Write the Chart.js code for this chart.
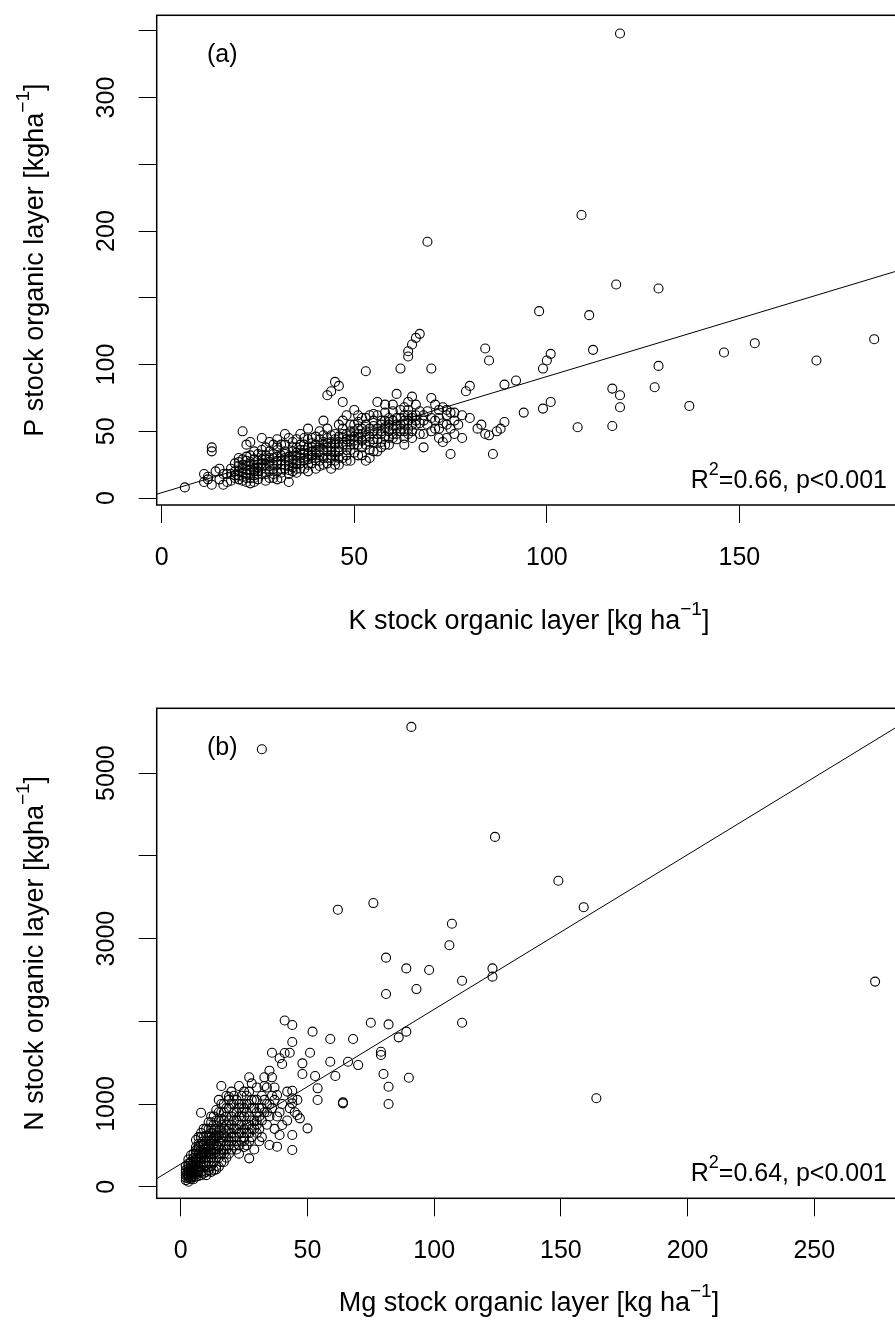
<!DOCTYPE html>
<html>
<head>
<meta charset="utf-8">
<script src="https://cdn.jsdelivr.net/npm/chart.js@4.4.1/dist/chart.umd.min.js"></script>
<style>
 body { margin:0; background:#fff; width:895px; height:1332px; overflow:hidden; position:relative; }
 .panel { position:absolute; left:0; width:960px; height:666px; }
</style>
</head>
<body>
<div class="panel" style="top:0"><canvas id="chartA" width="960" height="666"></canvas></div>
<div class="panel" style="top:666px"><canvas id="chartB" width="960" height="666"></canvas></div>
<script>
// panel (a): K stock vs P stock  [K, P]
const kpPoints = [
 [6,8],
 [11,12],[12,16],[13,10],[14,20],[15,14],[16,18],[17,12],[18,22],[19,15],[19,26],[13,38],[13,35],[12,14],[15,22],[17,18],[18,13],[20,20],[20,14],[16,10],[11,18],
 [21,50],[22,28],[22,18],[23,15],[24,22],[21,25],[23,32],[24,12],[25,20],[22,40],[20,30],[24,35],[25,28],[23,24],[21,16],[22,12],[24,17],[25,14],[23,42],[25,33],
 [18,18],[19,20],[20,17],[20,24],[21,19],[21,22],[22,21],[22,24],[23,19],[23,27],[24,25],[24,20],[25,23],[25,18],[19,17],[20,27],[21,29],[22,31],[23,21],[24,29],[25,25],[21,13],[22,15],[23,11],[24,15],
 [26,45],[27,22],[28,30],[26,18],[29,25],[30,20],[27,38],[28,15],[29,33],[30,28],[26,26],[27,13],[28,42],[29,18],[30,36],[26,32],[28,24],[30,14],[27,29],[29,40],
 [26,22],[26,29],[27,25],[27,32],[28,27],[28,20],[29,22],[29,30],[30,25],[30,31],[31,22],[31,28],[32,25],[32,33],[33,24],[33,31],[34,29],[34,23],[35,26],[35,34],[26,36],[28,35],[30,39],[32,40],[34,38],[27,18],[29,15],[31,19],[33,21],[35,19],
 [31,25],[32,30],[33,18],[34,35],[35,28],[31,40],[32,22],[33,45],[34,20],[35,38],[31,15],[32,35],[33,28],[34,26],[35,44],[31,32],[33,12],[34,42],[35,22],[32,48],[30,44],[35,31],
 [36,30],[37,40],[38,25],[39,35],[40,28],[36,48],[37,22],[38,38],[39,45],[40,33],[36,36],[38,20],[39,30],[40,40],[37,33],[38,52],[40,22],[36,26],[39,38],[37,28],
 [36,33],[36,40],[37,30],[37,36],[38,33],[38,29],[39,32],[39,41],[40,36],[40,30],[41,32],[41,39],[42,30],[42,40],[43,35],[43,41],[44,35],[44,42],[45,32],[45,44],[36,22],[38,44],[40,46],[42,47],[44,47],[37,45],[39,26],[41,24],[43,26],[45,25],
 [41,35],[42,42],[43,30],[44,38],[45,28],[41,50],[42,25],[43,45],[44,32],[45,40],[41,28],[42,36],[43,52],[44,22],[45,48],[41,44],[43,38],[42,58],[44,30],[45,35],[44,80],[45,87],[46,84],[43,77],
 [46,38],[47,45],[48,32],[49,50],[50,40],[46,55],[47,30],[48,48],[49,36],[50,55],[46,42],[47,72],[48,62],[49,28],[50,46],[47,52],[48,40],[50,66],[46,25],[49,44],
 [46,35],[46,46],[47,40],[47,48],[48,36],[48,44],[49,40],[49,47],[50,43],[50,50],[51,40],[51,48],[52,43],[52,52],[53,45],[53,50],[54,46],[54,52],[55,42],[55,54],[46,30],[48,28],[50,34],[52,32],[54,36],[47,58],[49,55],[51,57],[53,60],[55,63],
 [51,45],[52,38],[53,55],[54,42],[55,50],[51,32],[52,60],[53,40],[54,30],[55,58],[51,52],[53,95],[52,48],[54,62],[55,35],[51,62],[53,28],[55,44],
 [56,48],[57,55],[58,40],[59,60],[60,52],[56,62],[57,38],[58,58],[59,45],[60,65],[56,35],[58,70],[59,55],[57,48],[60,45],[56,72],
 [56,44],[56,52],[57,50],[57,58],[58,46],[58,53],[59,50],[59,57],[60,48],[60,58],[61,52],[61,60],[62,55],[62,50],[63,55],[63,58],[64,52],[64,62],[65,55],[65,60],[57,42],[59,40],[61,44],[63,45],[65,50],[58,64],[60,70],[62,66],[64,66],[66,62],
 [61,55],[62,60],[63,50],[64,58],[65,45],[61,78],[62,97],[63,68],[64,72],[65,62],[61,48],[62,52],[63,62],[64,48],[65,76],[64,110],[65,115],[66,120],[67,123],[64,106],[63,40],
 [66,55],[67,48],[68,38],[69,65],[70,97],[70,75],[71,52],[72,60],[73,42],[74,55],[75,33],[69,192],[66,70],[68,58],[72,45],[73,68],[74,66],[75,52],[67,65],[71,70],
 [66,58],[67,56],[68,62],[69,55],[70,60],[71,58],[72,66],[73,56],[74,62],[75,64],[68,48],[70,50],[72,52],[74,45],[76,58],
 [76,48],[77,55],[78,62],[79,80],[80,84],[82,52],[84,112],[85,103],[85,47],[86,33],[84,48],[83,55],[88,52],[89,57],[89,85],[92,88],[78,45],[76,64],[80,60],[87,50],
 [94,64],[99,67],[101,72],[99,97],[100,103],[101,108],[98,140],[109,212],[111,137],[112,111],[108,53],[117,54],[119,68],[119,77],[117,82],[118,160],[119,348],
 [129,157],[129,99],[128,83],[137,69],[146,109],[154,116],[170,103],[185,119]
];
// panel (b): Mg stock vs N stock  [Mg, N]
const mgnPoints = [
 [2,80],[3,100],[3,150],[4,120],[4,200],[5,180],[5,260],[3,220],[4,300],[2,140],[5,120],[3,60],[4,90],[5,350],[2,200],[3,280],[4,160],[5,220],[6,400],[6,565],
 [2,110],[2,170],[3,120],[3,180],[3,250],[4,140],[4,230],[4,260],[5,150],[5,200],[5,300],[5,400],[3,330],[4,380],[2,250],[3,190],[4,110],[5,90],[3,140],[4,170],[5,240],
 [6,200],[6,300],[7,250],[7,350],[7,450],[8,300],[8,400],[8,520],[6,150],[7,180],[8,240],[6,480],[7,600],[8,650],[8,895],[7,520],[6,350],[8,180],
 [6,250],[6,330],[6,440],[7,200],[7,300],[7,400],[7,480],[8,350],[8,450],[8,600],[6,120],[7,130],[8,140],[6,270],[7,320],[8,380],
 [9,250],[9,350],[9,450],[10,300],[10,420],[10,550],[11,350],[11,480],[11,620],[12,400],[12,520],[12,700],[9,600],[10,700],[11,200],[12,250],[10,180],[11,780],[12,850],[9,520],[10,360],[11,420],[12,600],[11,202],
 [9,300],[9,400],[9,500],[9,700],[10,250],[10,400],[10,480],[10,620],[11,300],[11,400],[11,550],[11,700],[12,350],[12,450],[12,650],[12,780],[9,160],[10,140],[12,180],[9,420],[10,460],[11,500],[12,550],
 [13,300],[13,450],[13,600],[14,350],[14,500],[14,700],[15,400],[15,550],[15,800],[16,450],[16,600],[16,900],[13,750],[14,927],[15,242],[16,300],[14,250],[15,680],[16,1000],[13,520],[15,1050],[16,750],[14,420],
 [13,400],[13,550],[13,680],[13,850],[14,450],[14,600],[14,800],[15,350],[15,480],[15,620],[15,900],[16,400],[16,550],[16,680],[16,820],[13,200],[14,210],[13,580],[14,620],
 [17,400],[17,550],[17,700],[18,450],[18,600],[18,850],[19,500],[19,700],[19,950],[20,550],[20,750],[20,1000],[17,300],[18,350],[19,400],[20,450],[16,1218],[18,1100],[19,1088],[17,900],[20,650],[18,750],
 [17,450],[17,620],[17,800],[17,1000],[18,500],[18,680],[18,950],[19,550],[19,800],[19,1050],[20,600],[20,850],[20,1150],
 [21,500],[21,700],[21,900],[22,600],[22,800],[22,1050],[23,400],[23,650],[23,850],[23,1218],[24,550],[24,750],[24,1000],[25,600],[25,850],[25,1150],[21,1100],[22,450],[24,900],[25,480],[23,1000],
 [21,600],[21,800],[21,1000],[22,700],[22,900],[22,550],[23,500],[23,750],[23,950],[24,650],[24,850],[24,1100],[25,700],[25,950],[25,550],
 [26,650],[26,900],[26,1100],[27,343],[27,550],[27,750],[27,1323],[28,700],[28,950],[28,600],[29,800],[29,1050],[30,650],[30,900],[30,1200],[26,500],[28,1250],[29,450],[30,750],[27,1000],
 [26,750],[26,1000],[27,650],[27,850],[27,1150],[28,800],[28,1050],[29,700],[29,950],[30,800],[30,1050],
 [31,700],[31,950],[32,800],[32,1100],[33,1323],[33,1218],[33,900],[34,750],[34,1000],[35,1403],[35,504],[35,850],[36,1323],[36,1620],[36,950],[37,700],[37,1050],[38,1109],[38,484],[38,850],[39,1553],[39,625],[39,900],[40,746],[40,1484],[40,1000],[32,600],[34,1200],[37,1200],[31,550],
 [31,850],[32,950],[33,1050],[34,900],[35,1000],[36,1100],
 [41,2010],[41,1617],[42,1150],[43,1620],[44,1955],[44,1750],[44,1161],[44,1069],[44,1008],[44,625],[44,444],[45,900],[46,867],[47,827],[48,1492],[48,1363],[50,706],[51,1620],[52,1875],[53,1339],[54,1190],[54,1048],[42,800],[43,950],[46,1050],
 [59,1786],[59,1511],[61,1339],[62,3350],[64,1008],[64,1020],[66,1511],[68,1786],[70,1471],[75,1983],[76,3430],[79,1632],[79,1593],[80,1363],[81,2770],[81,2330],[82,1963],[82,1209],[82,1000],[86,1806],[89,1875],[89,2640],[90,1318],[91,5560],[93,2390],[98,2620],[106,2920],[107,3180],[111,1983],[111,2490],[123,2640],[123,2540],[124,4230],[149,3700],[159,3380],[164,1070],[274,2480],[32,5290]
];

const xTicksA = [0, 50, 100, 150];
const yTicksA = [0, 50, 100, 150, 200, 250, 300, 350];
const yLabelsA = [0, 50, 100, 200, 300];
const xTicksB = [0, 50, 100, 150, 200, 250];
const yTicksB = [0, 1000, 2000, 3000, 4000, 5000];
const yLabelsB = [0, 1000, 3000, 5000];
const fitA = [4, 0.87];     // intercept, slope
const fitB = [275, 18.7];
const statA = '=0.66, p<0.001';
const statB = '=0.64, p<0.001';

const FONT = "'Liberation Sans', Arial, sans-serif";

// text with one superscript piece: [[text, isSup], ...]
function supText(ctx, parts, x, y, align, size) {
  const sup = Math.round(size * 0.72);
  let w = 0;
  parts.forEach(p => {
    ctx.font = (p[1] ? sup : size) + 'px ' + FONT;
    w += ctx.measureText(p[0]).width;
  });
  let cx = align === 'center' ? x - w / 2 : (align === 'right' ? x - w : x);
  ctx.textAlign = 'left';
  ctx.textBaseline = 'alphabetic';
  parts.forEach(p => {
    ctx.font = (p[1] ? sup : size) + 'px ' + FONT;
    ctx.fillText(p[0], cx, p[1] ? y - size * 0.52 : y);
    cx += ctx.measureText(p[0]).width;
  });
}

const rbase = {
  id: 'rbase',
  afterDraw(chart, args, o) {
    const ctx = chart.ctx;
    const a = chart.chartArea;
    const ys = chart.scales.y;
    ctx.save();
    ctx.strokeStyle = '#000';
    ctx.lineWidth = 1.5;
    ctx.strokeRect(a.left, a.top, a.right - a.left, a.bottom - a.top);
    ctx.fillStyle = '#000';
    // rotated y tick labels
    ctx.font = '25px ' + FONT;
    o.yLabels.forEach(v => {
      ctx.save();
      ctx.translate(107, ys.getPixelForValue(v));
      ctx.rotate(-Math.PI / 2);
      ctx.textAlign = 'center';
      ctx.textBaseline = 'middle';
      ctx.fillText(String(v), 0, 0);
      ctx.restore();
    });
    // x title
    supText(ctx, [[o.xTitle, false], ['\u22121', true], [']', false]], 529, a.bottom + o.xTitleOff, 'center', 27);
    // y title
    ctx.save();
    ctx.translate(43, (a.top + a.bottom) / 2);
    ctx.rotate(-Math.PI / 2);
    supText(ctx, [[o.yTitle, false], ['\u22121', true], [']', false]], 0, 0, 'center', 27);
    ctx.restore();
    // panel letter and fit statistics
    ctx.font = '25px ' + FONT;
    ctx.textAlign = 'left';
    ctx.fillText(o.letter, 207, a.top + 47);
    supText(ctx, [['R', false], ['2', true], [o.stat, false]], 887, a.bottom - 17, 'right', 25);
    ctx.restore();
  }
};

function makeChart(id, pts, fit, xr, yr, xTicks, yTicks, pad, xh, txt) {
  const lineData = [
    { x: xr[0], y: fit[0] + fit[1] * xr[0] },
    { x: xr[1], y: fit[0] + fit[1] * xr[1] }
  ];
  return new Chart(document.getElementById(id), {
    type: 'scatter',
    data: {
      datasets: [{
        data: pts.map(p => ({ x: p[0], y: p[1] })),
        pointStyle: 'circle',
        pointRadius: 4.5,
        pointHoverRadius: 4.5,
        borderWidth: 1.1,
        borderColor: '#000',
        backgroundColor: 'rgba(0,0,0,0)'
      }, {
        data: lineData,
        showLine: true,
        pointRadius: 0,
        borderWidth: 1,
        borderColor: '#000',
        backgroundColor: '#000'
      }]
    },
    options: {
      responsive: false,
      animation: false,
      events: [],
      layout: { padding: { left: 0, top: pad.top, right: pad.right, bottom: 0 } },
      plugins: { legend: { display: false }, tooltip: { enabled: false }, rbase: txt },
      scales: {
        x: {
          type: 'linear', min: xr[0], max: xr[1],
          afterBuildTicks: s => { s.ticks = xTicks.map(v => ({ value: v })); },
          afterFit: s => { s.height = xh; },
          grid: { display: true, drawOnChartArea: false, drawTicks: true, tickLength: 18, color: '#000', lineWidth: 1 },
          border: { display: false },
          ticks: { font: { family: FONT, size: 25 }, color: '#000', padding: 20, autoSkip: false, maxRotation: 0, minRotation: 0 }
        },
        y: {
          type: 'linear', min: yr[0], max: yr[1],
          afterBuildTicks: s => { s.ticks = yTicks.map(v => ({ value: v })); },
          afterFit: s => { s.width = 156.7; },
          grid: { display: true, drawOnChartArea: false, drawTicks: true, tickLength: 18, color: '#000', lineWidth: 1 },
          border: { display: false },
          ticks: { display: false }
        }
      }
    },
    plugins: [rbase]
  });
}

makeChart('chartA', kpPoints, fitA, [-1.3, 193], [-5.2, 361.6], xTicksA, yTicksA,
  { top: 15.3, right: 55 }, 161,
  { yLabels: yLabelsA, xTitle: 'K stock organic layer [kg ha', yTitle: 'P stock organic layer [kgha',
    letter: '(a)', stat: statA, xTitleOff: 124 });

makeChart('chartB', mgnPoints, fitB, [-9.5, 285.8], [-140, 5785], xTicksB, yTicksB,
  { top: 42.3, right: 55 }, 133.7,
  { yLabels: yLabelsB, xTitle: 'Mg stock organic layer [kg ha', yTitle: 'N stock organic layer [kgha',
    letter: '(b)', stat: statB, xTitleOff: 113 });
</script>
</body>
</html>
